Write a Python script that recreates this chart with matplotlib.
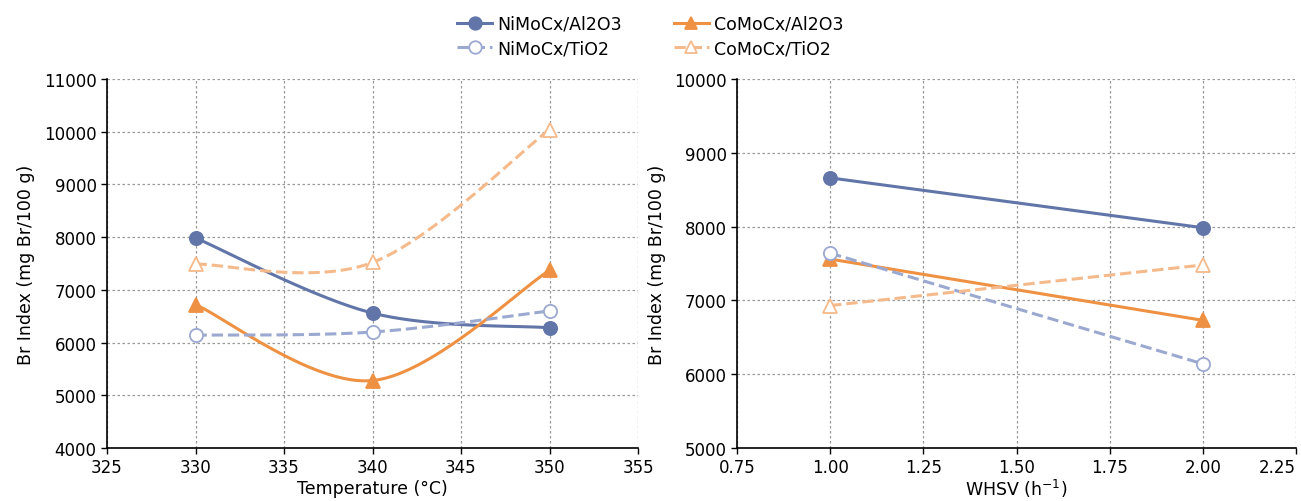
import numpy as np
import matplotlib
matplotlib.use("Agg")
import matplotlib.pyplot as plt
from matplotlib.lines import Line2D

plt.rcParams['font.family'] = ['DejaVu Sans']

temps = [330, 340, 350]
whsv = [1.0, 2.0]
series_names = ["NiMoCx/Al2O3", "CoMoCx/Al2O3", "NiMoCx/TiO2", "CoMoCx/TiO2"]
temp_nimo_al = [7985, 6560, 6280]
temp_como_al = [6720, 5280, 7370]
temp_nimo_ti = [6140, 6200, 6600]
temp_como_ti = [7490, 7520, 10040]
whsv_nimo_al = [8660, 7985]
whsv_como_al = [7560, 6730]
whsv_nimo_ti = [7640, 6140]
whsv_como_ti = [6930, 7480]

colors = ["#6175A8", "#EE9143", "#9BA9D1", "#F5BA8B"]
styles = [("o", True, "-"), ("^", True, "-"), ("o", False, "--"), ("^", False, "--")]


def smooth(x, y, n=60):
    # Excel-like smoothed line (Catmull-Rom Bezier)
    x = np.asarray(x, float); y = np.asarray(y, float)
    P = np.column_stack([x, y])
    out = []
    for i in range(len(P) - 1):
        p0 = P[i - 1] if i > 0 else P[i]
        p1 = P[i]; p2 = P[i + 1]
        p3 = P[i + 2] if i + 2 < len(P) else P[i + 1]
        c1 = p1 + (p2 - p0) / 6.0
        c2 = p2 - (p3 - p1) / 6.0
        t = np.linspace(0, 1, n)[:, None]
        b = (1 - t) ** 3 * p1 + 3 * (1 - t) ** 2 * t * c1 + 3 * (1 - t) * t ** 2 * c2 + t ** 3 * p2
        out.append(b if i == 0 else b[1:])
    out = np.vstack(out)
    return out[:, 0], out[:, 1]


fig = plt.figure(figsize=(13.01, 5.02), dpi=100)
ax1 = fig.add_axes([107 / 1301, 1 - 449 / 502, (638 - 107) / 1301, (449 - 80) / 502])
ax2 = fig.add_axes([737 / 1301, 1 - 449 / 502, (1296 - 737) / 1301, (449 - 80) / 502])

temp_data = [temp_nimo_al, temp_como_al, temp_nimo_ti, temp_como_ti]
whsv_data = [whsv_nimo_al, whsv_como_al, whsv_nimo_ti, whsv_como_ti]

for i, (name, ys) in enumerate(zip(series_names, temp_data)):
    m, filled, ls = styles[i]
    sx, sy = smooth(temps, ys)
    ax1.plot(sx, sy, color=colors[i], ls=ls, lw=2.2, zorder=3)
    ax1.plot(temps, ys, ls='none', marker=m, ms=9.5,
             mfc=colors[i] if filled else 'white', mec=colors[i], mew=1.3, zorder=4)

for i, (name, ys) in enumerate(zip(series_names, whsv_data)):
    m, filled, ls = styles[i]
    ax2.plot(whsv, ys, color=colors[i], ls=ls, lw=2.2, marker=m, ms=9.5,
             mfc=colors[i] if filled else 'white', mec=colors[i], mew=1.3, zorder=3)

for ax in (ax1, ax2):
    ax.grid(True, ls=(0, (2, 2)), color='#999999', lw=0.9)
    ax.set_axisbelow(True)
    for s in ('top', 'right'):
        ax.spines[s].set_visible(False)
    for s in ('left', 'bottom'):
        ax.spines[s].set_linewidth(1.2)
    ax.tick_params(labelsize=12, length=4, width=1, direction='out')
    ax.set_ylabel("Br Index (mg Br/100 g)", fontsize=12.5, labelpad=6)

ax1.set_xlim(325, 355)
ax1.set_xticks(np.arange(325, 356, 5))
ax1.set_ylim(4000, 11000)
ax1.set_yticks(np.arange(4000, 11001, 1000))
ax1.set_xlabel("Temperature (°C)", fontsize=12.5, labelpad=2)

ax2.set_xlim(0.75, 2.25)
ax2.set_xticks(np.arange(0.75, 2.26, 0.25))
ax2.set_xticklabels([f"{v:.2f}" for v in np.arange(0.75, 2.26, 0.25)])
ax2.set_ylim(5000, 10000)
ax2.set_yticks(np.arange(5000, 10001, 1000))
ax2.set_xlabel("WHSV (h$^{-1}$)", fontsize=12.5, labelpad=0)
# keep the last tick label inside the figure
ax2.get_xticklabels()[-1].set_horizontalalignment('right')

handles = []
for i, name in enumerate(series_names):
    m, filled, ls = styles[i]
    handles.append(Line2D([], [], color=colors[i], ls=ls, lw=2.2, marker=m, ms=9,
                          mfc=colors[i] if filled else 'white', mec=colors[i], mew=1.3, label=name))
order = [0, 2, 1, 3]
fig.legend(handles=[handles[k] for k in order], loc='upper center', bbox_to_anchor=(0.5, 1.0), ncol=2,
           frameon=False, fontsize=12.5, handlelength=2.0, handletextpad=0.3,
           columnspacing=3.0, labelspacing=0.4)

fig.savefig("out.png", dpi=100)
